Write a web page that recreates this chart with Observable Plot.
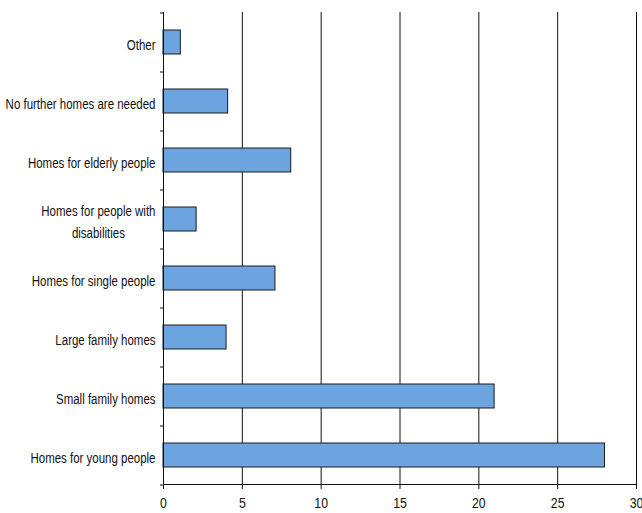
<!DOCTYPE html>
<html>
<head>
<meta charset="utf-8">
<script src="https://cdn.jsdelivr.net/npm/d3@7"></script>
<script src="https://cdn.jsdelivr.net/npm/@observablehq/plot@0.6"></script>
<style>
  html, body { margin: 0; padding: 0; background: #fff; }
  #chart svg { display: block; }
</style>
</head>
<body>
<div id="chart"></div>
<script>
const categories = [
  "Other",
  "No further homes are needed",
  "Homes for elderly people",
  "Homes for people with disabilities",
  "Homes for single people",
  "Large family homes",
  "Small family homes",
  "Homes for young people"
];
const values = [1.1, 4.1, 8.1, 2.1, 7.1, 4, 21, 28];
const xTicks = [0, 5, 10, 15, 20, 25, 30];
const gridValues = [5, 10, 15, 20, 25, 30];
const labelText = {
  "Homes for people with disabilities": "Homes for people with\ndisabilities"
};

const data = categories.map((c, i) => ({category: c, value: values[i]}));

const H = 513, mTop = 12, mBottom = 29;
const step = (H - mTop - mBottom) / categories.length;

const chart = Plot.plot({
  width: 642,
  height: H,
  marginLeft: 163,
  marginRight: 6,
  marginTop: mTop,
  marginBottom: mBottom,
  style: {fontFamily: "'Liberation Sans', Arial, sans-serif", fontSize: "14px", color: "#111"},
  x: {domain: [0, 30], ticks: xTicks, line: true, tickSize: 5, tickPadding: 8, label: null},
  y: {domain: categories, paddingInner: 0.6, paddingOuter: 0.3, label: null, axis: null},
  marks: [
    Plot.ruleX(gridValues, {stroke: "#111", strokeWidth: 1}),
    Plot.barX(data, {y: "category", x: "value", fill: "#6ca4e0", stroke: "#1a1a1a", strokeWidth: 1}),
    Plot.ruleX([0], {stroke: "#111", strokeWidth: 1}),
    Plot.axisY({tickSize: 0, tickPadding: 8, fontSize: 14, lineHeight: 1.57,
      tickFormat: d => labelText[d] ?? d}),
    Plot.axisY({tickSize: 3, text: null, dy: -step / 2}),
    Plot.axisY({ticks: [categories[categories.length - 1]], tickSize: 3, text: null, dy: step / 2})
  ]
});
document.getElementById("chart").appendChild(chart);

// slightly larger x tick numbers
const xLab = chart.querySelector('g[aria-label="x-axis tick label"]');
if (xLab) xLab.setAttribute("font-size", 15);

// condense the label glyphs (Arial Narrow look)
const squeeze = 0.82;
chart.querySelectorAll('g[aria-label="y-axis tick label"] text, g[aria-label="x-axis tick label"] text').forEach(t => {
  t.setAttribute("transform", (t.getAttribute("transform") || "") + ` scale(${squeeze},1)`);
});
// centre the lines of the wrapped label within its block
chart.querySelectorAll('g[aria-label="y-axis tick label"] text').forEach(t => {
  const spans = t.querySelectorAll("tspan");
  if (spans.length > 1) {
    const w = t.getBBox().width;
    t.setAttribute("text-anchor", "middle");
    spans.forEach(s => s.setAttribute("x", -w / 2));
  }
});
</script>
</body>
</html>
